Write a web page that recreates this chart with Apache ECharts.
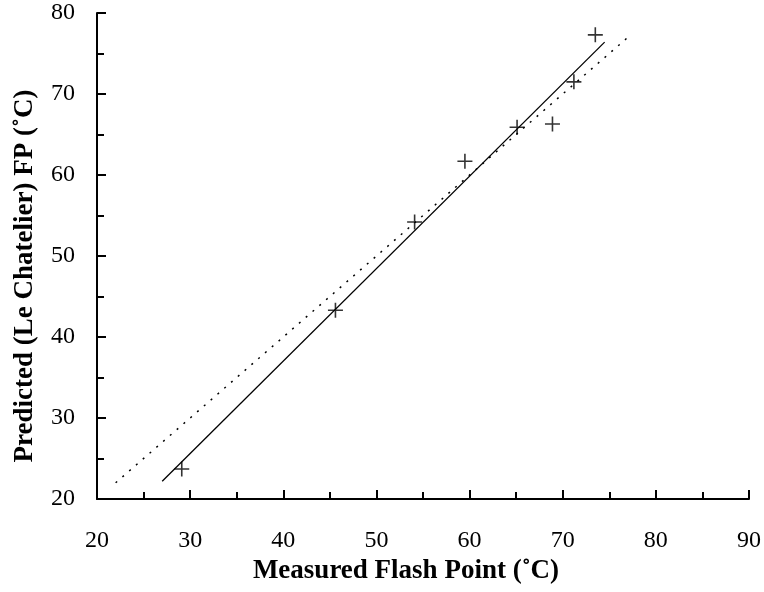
<!DOCTYPE html>
<html>
<head>
<meta charset="utf-8">
<script src="https://cdn.jsdelivr.net/npm/echarts@6/dist/echarts.min.js"></script>
<style>
  html, body { margin: 0; padding: 0; background: #fff; }
  #main { width: 764px; height: 592px; }
</style>
</head>
<body>
<div id="main"></div>
<script>
// measured vs predicted flash points
const measured = [29.1, 45.6, 54.1, 59.5, 65.1, 68.9, 71.2, 73.5];
const predicted = [23.7, 43.3, 54.2, 61.7, 65.9, 66.3, 71.5, 77.3];
// fitted line (solid) end points
const fitX = [27.0, 74.5];
const fitY = [22.2, 76.4];
// y = x line (dotted)
const parityX = [22.0, 77.2];
const parityY = [22.0, 77.2];

const font = 'Liberation Serif, Times New Roman, serif';

const chart = echarts.init(document.getElementById('main'));

const pairs = (xs, ys) => xs.map((x, i) => [x, ys[i]]);

const axisCommon = {
  type: 'value',
  interval: 10,
  minorTick: { show: true, splitNumber: 2, length: 7, lineStyle: { color: '#000', width: 2 } },
  axisLine: { show: true, lineStyle: { color: '#000', width: 2 } },
  axisTick: { show: true, inside: true, length: 9, lineStyle: { color: '#000', width: 2 } },
  splitLine: { show: false },
  nameLocation: 'middle',
};

const nameStyle = { fontFamily: font, fontSize: 27, fontWeight: 'bold', color: '#000' };

const option = {
  animation: false,
  grid: { left: 97, right: 14, top: 13, bottom: 93, containLabel: false },
  xAxis: Object.assign({}, axisCommon, {
    min: 20, max: 90,
    name: 'Measured Flash Point (˚C)',
    nameGap: 57,
    nameTextStyle: Object.assign({}, nameStyle, { padding: [0, 34, 0, 0] }),
    axisLabel: { fontFamily: font, fontSize: 24, color: '#000', margin: 30 },
  }),
  yAxis: Object.assign({}, axisCommon, {
    min: 20, max: 80,
    name: 'Predicted (Le Chatelier) FP (˚C)',
    nameGap: 58,
    nameTextStyle: Object.assign({}, nameStyle, { padding: [0, 40, 0, 0] }),
    axisLabel: { fontFamily: font, fontSize: 24, color: '#000', margin: 22 },
  }),
  series: [
    {
      type: 'line',
      data: pairs(parityX, parityY),
      symbol: 'none',
      lineStyle: { color: '#000', width: 1.5, type: [2, 7] },
    },
    {
      type: 'line',
      data: pairs(fitX, fitY),
      symbol: 'none',
      lineStyle: { color: '#000', width: 1.3 },
    },
    {
      type: 'scatter',
      data: pairs(measured, predicted),
      symbol: 'path://M7,0 L7,14 M0,7 L14,7',
      symbolSize: 15,
      itemStyle: { color: 'none', borderColor: '#000', borderWidth: 1.6 },
      z: 5,
    },
  ],
};

chart.setOption(option);
</script>
</body>
</html>
